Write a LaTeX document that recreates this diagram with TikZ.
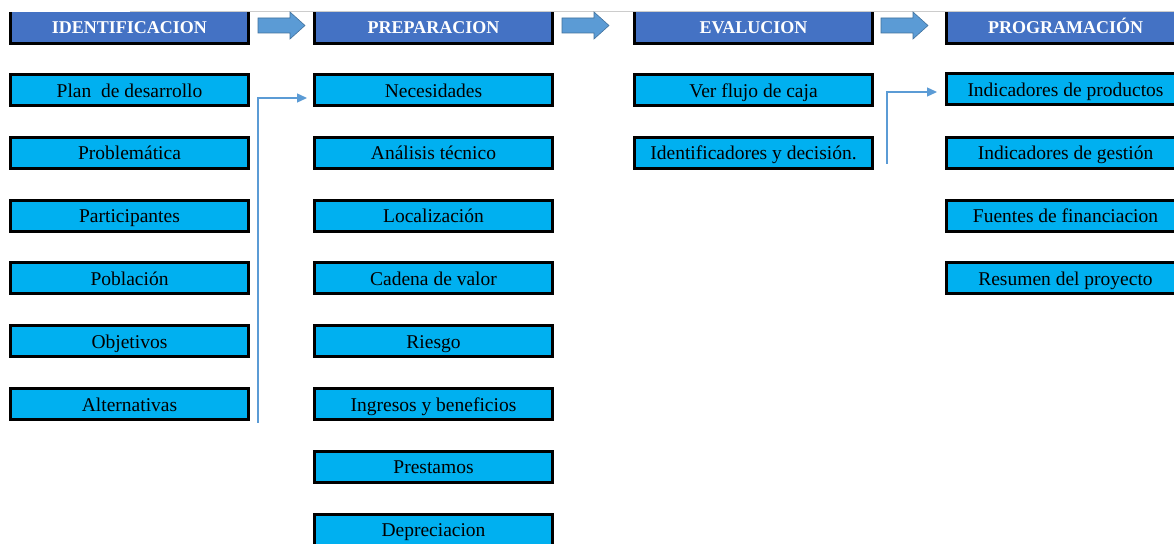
\documentclass[tikz,border=0pt]{standalone}
\usepackage{fontspec}
\setmainfont{Liberation Serif}
\usetikzlibrary{arrows.meta}
\definecolor{boxcyan}{HTML}{00B0F0}
\definecolor{hdrblue}{HTML}{4472C4}
\definecolor{arrblue}{HTML}{5B9BD5}
\definecolor{arredge}{HTML}{41719C}
\begin{document}
\begin{tikzpicture}[x=1pt,y=-1pt,
  item/.style={draw=black, line width=3pt, fill=boxcyan, minimum width=238pt, minimum height=31pt, inner sep=0pt,
    text height=17pt, text depth=3pt,
    font=\fontsize{19.5}{22}\selectfont, text=black},
  hdr/.style={fill=hdrblue, minimum width=238pt, minimum height=31pt, inner sep=0pt,
    text height=15pt, text depth=3pt,
    font=\bfseries\fontsize{18}{20}\selectfont, text=white},
  hborder/.style={draw=black, line width=3pt},
  barrow/.style={fill=arrblue, draw=arredge, line width=0.6pt, line join=miter},
  conn/.style={draw=arrblue, line width=1.3pt, -{Triangle[length=10pt,width=9pt]}}]
\clip (0,0) rectangle (1174,543);
\fill[white] (0,0) rectangle (1174,543);
% headers
\node[hdr] (h1) at (129.5,27.5) {IDENTIFICACION};
\node[hdr] (h2) at (433.5,27.5) {PREPARACION};
\node[hdr] (h3) at (753.5,27.5) {EVALUCION};
\node[hdr] (h4) at (1065.5,27.5) {PROGRAMACIÓN};
\foreach \h in {h1,h2,h3,h4}
  \draw[hborder] (\h.north west) |- (\h.south east) -- (\h.north east);
\draw[black!20, line width=0.8pt] (130,11) -- (1174,11);
% block arrows
\foreach \ax/\nm in {258/a1,562/a2,881/a3}{
  \coordinate (\nm) at (\ax,25.5);
  \draw[barrow] (\nm) ++(0,-7.5) -- ++(32,0) -- ++(0,-6) -- ++(15,13.5) -- ++(-15,13.5) -- ++(0,-6) -- ++(-32,0) -- cycle;
}
% column 1
\node[item] (c1r1) at (129.5,90) {Plan\ \ de desarrollo};
\node[item] (c1r2) at (129.5,152.8) {Problemática};
\node[item] (c1r3) at (129.5,215.6) {Participantes};
\node[item] (c1r4) at (129.5,278.4) {Población};
\node[item] (c1r5) at (129.5,341.2) {Objetivos};
\node[item] (c1r6) at (129.5,404) {Alternativas};
% column 2
\node[item] (c2r1) at (433.5,90) {Necesidades};
\node[item] (c2r2) at (433.5,152.8) {Análisis técnico};
\node[item] (c2r3) at (433.5,215.6) {Localización};
\node[item] (c2r4) at (433.5,278.4) {Cadena de valor};
\node[item] (c2r5) at (433.5,341.2) {Riesgo};
\node[item] (c2r6) at (433.5,404) {Ingresos y beneficios};
\node[item] (c2r7) at (433.5,466.8) {Prestamos};
\node[item] (c2r8) at (433.5,529.6) {Depreciacion};
% column 3
\node[item] (c3r1) at (753.5,90) {Ver flujo de caja};
\node[item] (c3r2) at (753.5,152.8) {Identificadores y decisión.};
% column 4
\node[item] (c4r1) at (1065.5,89) {Indicadores de productos};
\node[item] (c4r2) at (1065.5,152.8) {Indicadores de gestión};
\node[item] (c4r3) at (1065.5,215.6) {Fuentes de financiacion};
\node[item] (c4r4) at (1065.5,278.4) {Resumen del proyecto};
% connectors
\coordinate (k1) at ([xshift=8pt,yshift=-1.5pt]c1r6.south east);
\draw[conn] (k1) |- ([xshift=-6pt,yshift=-8pt]c2r1.west);
\coordinate (k2) at ([xshift=13pt,yshift=6pt]c3r2.south east);
\draw[conn] (k2) |- ([xshift=-8pt,yshift=-3pt]c4r1.west);
\end{tikzpicture}
\end{document}
